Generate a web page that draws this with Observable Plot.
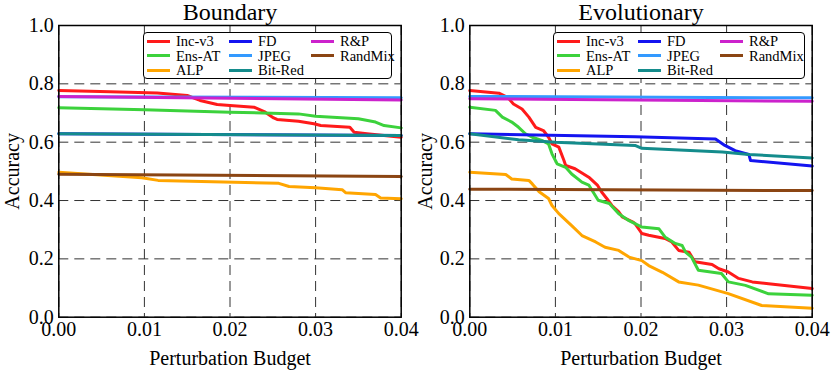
<!DOCTYPE html>
<html>
<head>
<meta charset="utf-8">
<script src="https://cdn.jsdelivr.net/npm/d3@7"></script>
<script src="https://cdn.jsdelivr.net/npm/@observablehq/plot@0.6"></script>
<style>
  html, body { margin: 0; padding: 0; background: white; }
  #wrap { position: relative; width: 831px; height: 371px; overflow: hidden; font-family: 'Liberation Serif', 'Times New Roman', serif; }
  .panel { position: absolute; top: 0; }
  .panel svg { overflow: visible; font-family: 'Liberation Serif', 'Times New Roman', serif; }
  .legend { position: absolute; box-sizing: border-box; border: 1.5px solid black; border-radius: 4px; background: white;
            display: grid; grid-template-rows: repeat(3, 14.5px); grid-auto-flow: column; padding: 1px 0 0 3px; font-size: 14.5px; line-height: 14.5px; }
  .item { display: flex; align-items: center; white-space: nowrap; }
  .swatch { display: inline-block; width: 23px; height: 3px; margin-right: 6px; }
</style>
</head>
<body>
<div id="wrap"></div>
<script>
// ---- data ----
const panelTitles = ["Boundary", "Evolutionary"];
const budgetTicks = [0, 0.01, 0.02, 0.03, 0.04];
const accuracyTicks = [0, 0.2, 0.4, 0.6, 0.8, 1.0];
const seriesNames = ["Inc-v3", "Ens-AT", "ALP", "FD", "JPEG", "Bit-Red", "R&P", "RandMix"];
const seriesColors = ["#ff1a1a", "#3cd23c", "#ffa500", "#1414f0", "#3399ff", "#148c8c", "#cc22cc", "#8b4513"];

// Boundary attack: [budget, accuracy]
const bndIncV3 = [[0,.777],[.006,.773],[.0115,.769],[.015,.76],[.0165,.743],[.0185,.729],[.02,.726],[.0228,.72],[.024,.705],[.0251,.683],[.0255,.678],[.028,.672],[.0298,.663],[.0306,.657],[.034,.651],[.0345,.634],[.036,.629],[.04,.617]];
const bndEnsAT = [[0,.718],[.01,.711],[.02,.703],[.028,.697],[.030,.689],[.035,.680],[.037,.669],[.038,.657],[.04,.649]];
const bndALP = [[0,.497],[.0097,.478],[.0116,.469],[.0257,.459],[.0269,.448],[.030,.444],[.0331,.437],[.0335,.427],[.037,.421],[.0376,.409],[.04,.406]];
const bndFD = [[0,.629],[.04,.623]];
const bndJPEG = [[0,.756],[.04,.752]];
const bndBitRed = [[0,.629],[.04,.623]];
const bndRP = [[0,.757],[.04,.745]];
const bndRandMix = [[0,.49],[.04,.482]];

// Evolutionary attack: [budget, accuracy]
const evoIncV3 = [[0,.777],[.0034,.768],[.0044,.754],[.0051,.731],[.0061,.714],[.0069,.686],[.0077,.651],[.0086,.64],[.0092,.617],[.0096,.594],[.0104,.583],[.011,.537],[.0112,.52],[.0123,.509],[.0139,.48],[.0149,.453],[.0154,.429],[.016,.407],[.0166,.383],[.0174,.361],[.0178,.344],[.019,.327],[.0193,.321],[.0201,.287],[.0209,.281],[.0228,.27],[.0236,.258],[.0244,.229],[.0256,.223],[.0263,.19],[.0283,.181],[.0291,.166],[.0302,.155],[.0314,.133],[.033,.121],[.0349,.115],[.04,.098]];
const evoEnsAT = [[0,.72],[.003,.709],[.0038,.686],[.0049,.669],[.0057,.651],[.0065,.629],[.0073,.617],[.0084,.606],[.0092,.594],[.0096,.56],[.0102,.526],[.0112,.514],[.0119,.491],[.0131,.463],[.0139,.453],[.015,.401],[.0163,.39],[.0174,.355],[.0186,.331],[.0201,.309],[.0221,.303],[.0228,.275],[.024,.253],[.0248,.246],[.0252,.223],[.0259,.206],[.0267,.161],[.0294,.15],[.0302,.121],[.0322,.109],[.0349,.08],[.04,.075]];
const evoALP = [[0,.497],[.0042,.489],[.0049,.474],[.0069,.469],[.0073,.457],[.0081,.43],[.0092,.407],[.0096,.383],[.0104,.355],[.0119,.314],[.0131,.28],[.0147,.258],[.0158,.24],[.0174,.229],[.0186,.206],[.0201,.194],[.0209,.177],[.0225,.154],[.0244,.121],[.0267,.11],[.0302,.081],[.0341,.04],[.04,.031]];
const evoFD = [[0,.629],[.0193,.619],[.0287,.611],[.0298,.589],[.031,.571],[.0326,.558],[.0328,.537],[.04,.518]];
const evoJPEG = [[0,.757],[.04,.752]];
const evoBitRed = [[0,.629],[.0057,.608],[.01,.6],[.0193,.589],[.0201,.579],[.0295,.566],[.0326,.558],[.04,.546]];
const evoRP = [[0,.749],[.04,.74]];
const evoRandMix = [[0,.439],[.04,.434]];

const boundarySeries = [bndIncV3, bndEnsAT, bndALP, bndFD, bndJPEG, bndBitRed, bndRP, bndRandMix];
const evolutionarySeries = [evoIncV3, evoEnsAT, evoALP, evoFD, evoJPEG, evoBitRed, evoRP, evoRandMix];

// ---- drawing ----
const serif = "'Liberation Serif', 'Times New Roman', serif";
function panel(title, seriesData, o) {
  const rows = seriesNames.flatMap((name, i) => seriesData[i].map(([x, y]) => ({series: name, x, y})));
  const gridStyle = {stroke: "#333", strokeOpacity: 1, strokeWidth: 1, strokeDasharray: "10,6"};
  const txt = {fontFamily: serif, fontSize: 20};
  return Plot.plot({
    width: o.width, height: 371,
    marginTop: 25, marginBottom: 54.3, marginLeft: o.ml, marginRight: o.mr,
    style: {fontFamily: serif, fontSize: "20px", color: "black", background: "transparent", overflow: "visible"},
    x: {domain: [0, 0.04]},
    y: {domain: [0, 1]},
    color: {domain: seriesNames, range: seriesColors},
    marks: [
      Plot.gridX(budgetTicks, gridStyle),
      Plot.gridY(accuracyTicks, gridStyle),
      Plot.axisX(budgetTicks, {...txt, tickFormat: d => d.toFixed(2), tickSize: 0, tickPadding: 5, label: "Perturbation Budget", labelAnchor: "center", labelOffset: 48, labelArrow: "none"}),
      Plot.axisY(accuracyTicks, {...txt, tickFormat: d => d.toFixed(1), tickSize: 0, tickPadding: 5, label: "Accuracy", labelAnchor: "center", labelOffset: o.yLabelOffset, labelArrow: "none"}),
      Plot.line(rows, {x: "x", y: "y", z: "series", stroke: "series", strokeWidth: 3}),
      Plot.frame({stroke: "black", strokeWidth: 1.5}),
      Plot.text([title], {frameAnchor: "top", dy: -6, lineAnchor: "bottom", fontSize: 24, fontFamily: serif})
    ]
  });
}

function legend(left, top, width, height, colWidths) {
  const div = document.createElement("div");
  div.className = "legend";
  Object.assign(div.style, {left: left + "px", top: top + "px", width: width + "px", height: height + "px", gridTemplateColumns: colWidths});
  seriesNames.forEach((name, i) => {
    const item = document.createElement("div");
    item.className = "item";
    const sw = document.createElement("span");
    sw.className = "swatch";
    sw.style.background = seriesColors[i];
    item.appendChild(sw);
    item.appendChild(document.createTextNode(name));
    div.appendChild(item);
  });
  return div;
}

const wrap = document.getElementById("wrap");
const left = document.createElement("div");
left.className = "panel"; left.style.left = "0px";
left.appendChild(panel(panelTitles[0], boundarySeries, {width: 415, ml: 58.3, mr: 14.3, yLabelOffset: 54}));
const right = document.createElement("div");
right.className = "panel"; right.style.left = "415px";
right.appendChild(panel(panelTitles[1], evolutionarySeries, {width: 416, ml: 54.3, mr: 19.3, yLabelOffset: 52}));
wrap.appendChild(left);
wrap.appendChild(right);
wrap.appendChild(legend(143, 32, 249, 47, "82px 82px 1fr"));
wrap.appendChild(legend(553, 32, 252, 47, "81px 82px 1fr"));
</script>
</body>
</html>
